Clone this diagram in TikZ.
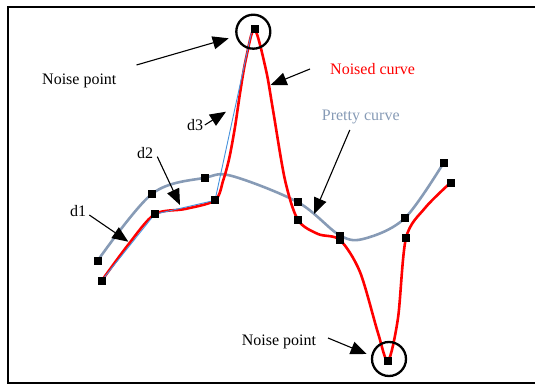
\documentclass[tikz,border=0pt]{standalone}
\usepackage{fontspec}
\setmainfont{Liberation Serif}
\usetikzlibrary{arrows.meta}
\definecolor{prettygray}{RGB}{135,155,182}
\definecolor{thinblue}{RGB}{70,145,220}
\definecolor{noisered}{RGB}{255,0,0}
\tikzset{
  sq/.style={fill=black,draw=none,minimum size=8pt,inner sep=0pt,rectangle},
  lbl/.style={inner sep=0pt,anchor=base west,font=\fontsize{16}{18}\selectfont},
  pointer/.style={line width=1.1pt,-{Triangle[length=16pt,width=13pt]}},
  ring/.style={line width=2.3pt,draw=black,fill=none},
  redcurve/.style={line width=2.6pt,draw=noisered},
  graycurve/.style={line width=2.6pt,draw=prettygray},
  bluepoly/.style={line width=0.9pt,draw=thinblue}
}
\begin{document}
\begin{tikzpicture}[x=1pt,y=-1pt]
\useasboundingbox (0,0) rectangle (535,385);
\clip (0,0) rectangle (535,385);
\draw[line width=2pt] (8,7) rectangle (560,383);
% gray (pretty) points
\coordinate (g1) at (97.6,260.7);
\coordinate (g2) at (152.2,193.7);
\coordinate (g3) at (205,177.7);
\coordinate (g4) at (298,202.3);
\coordinate (g5) at (340,235.5);
\coordinate (g6) at (405,218);
\coordinate (g7) at (443.7,162.7);
% red (noised) points
\coordinate (r1) at (101.7,280.7);
\coordinate (r2) at (154.6,214.3);
\coordinate (r3) at (215,200.3);
\coordinate (r4) at (254.5,29.3);
\coordinate (r5) at (298,220);
\coordinate (r6) at (340,240);
\coordinate (r7) at (388,360.7);
\coordinate (r8) at (406,238);
\coordinate (r9) at (450.5,182.7);
\coordinate (b4) at (251.5,32);
% curves
\draw[graycurve] plot[smooth,tension=0.55] coordinates {(g1) (g2) (g3) (232,176) (g4) (g5) (365,238.5) (g6) (g7)};
\draw[redcurve] plot[smooth,tension=0.5] coordinates {(r1) (128,245) (r2) (185,209) (r3) (223.3,180) (229.3,158) (235,127) (240,93.3) (245.7,60) (r4) (266,70) (273,110) (285,180) (r5) (318,234) (r6) (360,272) (378,333) (r7) (398,318) (r8) (425,208) (r9)};
\draw[bluepoly] (r1) -- (r2) -- (r3) -- (b4);
% squares
\foreach \p in {g1,g2,g3,g4,g5,g6,g7,r1,r2,r3,r4,r5,r6,r7,r8,r9}
  \node[sq] (s\p) at (\p) {};
% rings
\node[ring,circle,minimum size=34pt,inner sep=0pt] (ctop) at (253.3,31.7) {};
\node[ring,circle,minimum size=34pt,inner sep=0pt] (cbot) at (389,359) {};
% labels
\node[lbl] (tnp1) at (42,85) {Noise point};
\node[lbl,text=noisered] (tnc) at (330,75) {Noised curve};
\node[lbl,text=prettygray] (tpc) at (321.7,120.7) {Pretty curve};
\node[lbl] (td3) at (187,130.7) {d3};
\node[lbl] (td2) at (137,158.7) {d2};
\node[lbl] (td1) at (70,216.7) {d1};
\node[lbl] (tnp2) at (241.7,345) {Noise point};
% arrows
\coordinate (a1s) at (136.5,65);   \coordinate (a1e) at (228.7,38.3);
\coordinate (a2s) at (310,69);     \coordinate (a2e) at (270.7,85);
\coordinate (a3s) at (204.8,125);  \coordinate (a3e) at (226,111.7);
\coordinate (a4s) at (157.3,156.7);\coordinate (a4e) at (180,205);
\coordinate (a5s) at (89.3,215);   \coordinate (a5e) at (128.3,241.7);
\coordinate (a6s) at (349.8,130);  \coordinate (a6e) at (314,214);
\coordinate (a7s) at (328,338);    \coordinate (a7e) at (366.7,354);
\draw[pointer] (a1s) -- (a1e);
\draw[pointer] (a2s) -- (a2e);
\draw[pointer] (a3s) -- (a3e);
\draw[pointer] (a4s) -- (a4e);
\draw[pointer] (a5s) -- (a5e);
\draw[pointer] (a6s) -- (a6e);
\draw[pointer] (a7s) -- (a7e);
\end{tikzpicture}
\end{document}
